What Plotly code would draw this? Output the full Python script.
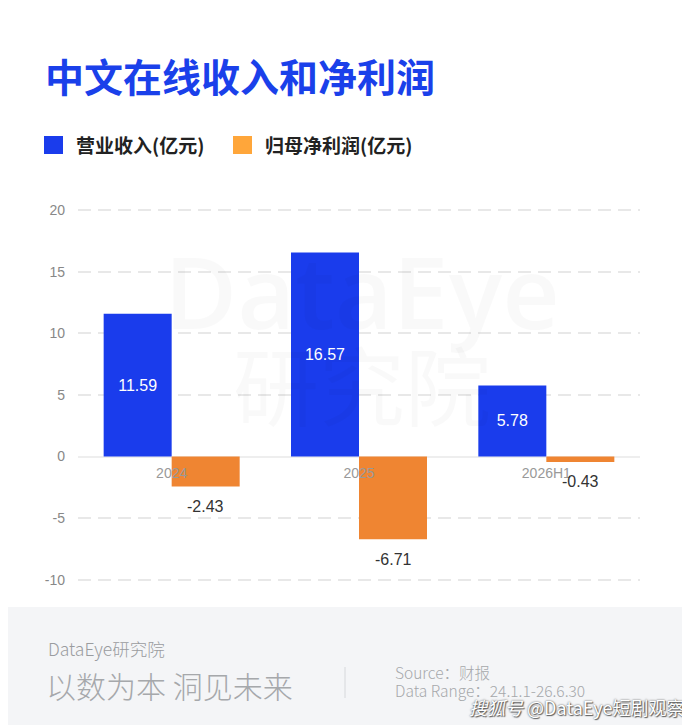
import plotly.graph_objects as go

# 数据
categories = ["2024", "2025", "2026H1"]
revenue = [11.59, 16.57, 5.78]      # 营业收入(亿元)
net_profit = [-2.43, -6.71, -0.43]  # 归母净利润(亿元)
y_ticks = [-10, -5, 0, 5, 10, 15, 20]

BLUE = "#1a3cec"
ORANGE = "#ef8532"
ORANGE_LEGEND = "#ffa63a"
FONT = "Noto Sans CJK SC"

# 页面 body 有 8px 边距, 图按参考图像素坐标减去 8 来摆放
OFF = 8
W, H = 690 - OFF, 725 - OFF
L, R, T, B = 78 - OFF, 640 - OFF, 209 - OFF, 581 - OFF
Y_RANGE = [-10.1, 20.1]


def px(x):
    return (x - OFF - L) / (R - L)


def py(y):
    return (B - (y - OFF)) / (B - T)


idx = list(range(len(categories)))

fig = go.Figure()

fig.add_trace(go.Bar(
    x=idx, y=revenue, name="营业收入(亿元)",
    marker=dict(color=BLUE, line=dict(width=0)),
    text=[f"{v:.2f}" for v in revenue],
    textposition="inside", insidetextanchor="middle",
    textfont=dict(color="white", size=16, family="Liberation Sans"),
    showlegend=False,
))
fig.add_trace(go.Bar(
    x=idx, y=net_profit, name="归母净利润(亿元)",
    marker=dict(color=ORANGE, line=dict(width=0)),
    showlegend=False,
))

annotations = []
shapes = []

# 负值标签 (柱子下方)
for i, v in zip(idx, net_profit):
    annotations.append(dict(
        x=i, y=v, xref="x", yref="y", text=f"{v:.2f}", showarrow=False,
        xshift=34, yshift=-20, font=dict(size=16, color="#333333", family="Liberation Sans"),
    ))

# 水印
annotations.append(dict(
    x=px(362), y=py(290), xref="paper", yref="paper", xanchor="center", yanchor="middle",
    text="DataEye", showarrow=False,
    font=dict(size=100, color="rgba(0,0,0,0.025)", family="Open Sans", weight=600),
))
annotations.append(dict(
    x=px(362), y=py(382), xref="paper", yref="paper", xanchor="center", yanchor="middle",
    text="研究院", showarrow=False,
    font=dict(size=86, color="rgba(0,0,0,0.025)", family=FONT),
))

# 标题
annotations.append(dict(
    x=px(43), y=py(75), xref="paper", yref="paper", xanchor="left", yanchor="middle",
    text="<b>中文在线收入和净利润</b>", showarrow=False,
    font=dict(size=39, color="#1a40ea", family=FONT),
))

# 图例
for x0, color, label in [(44, BLUE, "营业收入(亿元)"), (233, ORANGE_LEGEND, "归母净利润(亿元)")]:
    shapes.append(dict(
        type="rect", xref="paper", yref="paper", x0=px(x0), x1=px(x0 + 19),
        y0=py(154), y1=py(136), fillcolor=color, line=dict(width=0),
    ))
    annotations.append(dict(
        x=px(x0 + 30), y=py(145), xref="paper", yref="paper", xanchor="left", yanchor="middle",
        text=f"<b>{label}</b>", showarrow=False,
        font=dict(size=19, color="#222222", family=FONT),
    ))

# 页脚背景
shapes.append(dict(
    type="rect", xref="paper", yref="paper", x0=px(0), x1=px(700),
    y0=py(740), y1=py(607), fillcolor="#f4f5f7", line=dict(width=0), layer="below",
))
shapes.append(dict(
    type="line", xref="paper", yref="paper", x0=px(345), x1=px(345),
    y0=py(667), y1=py(698), line=dict(color="#d6d8db", width=1),
))

footer = [
    (46, 648, "DataEye研究院", 17.5, "#9a9c9f"),
    (44, 685, "以数为本 洞见未来", 30, "#a6a8ab"),
    (393, 672, "Source：财报", 15.5, "#a6a8ab"),
    (393, 690, "Data Range：24.1.1-26.6.30", 15.5, "#a6a8ab"),
]
for x, y, t, s, c in footer:
    annotations.append(dict(
        x=px(x), y=py(y), xref="paper", yref="paper", xanchor="left", yanchor="middle",
        text=t, showarrow=False, font=dict(size=s, color=c, family=FONT, weight=300),
    ))

annotations.append(dict(
    x=px(686), y=py(707), xref="paper", yref="paper", xanchor="right", yanchor="middle",
    text="<i>搜狐号</i> @DataEye短剧观察", showarrow=False,
    font=dict(size=18, color="#ffffff", family=FONT,
              shadow="0px 0px 2px #444, 1px 1px 1px #666"),
))

fig.update_layout(
    width=W, height=H,
    margin=dict(l=L, r=W - R, t=T, b=H - B, pad=0, autoexpand=False),
    paper_bgcolor="white", plot_bgcolor="white",
    barmode="group", bargap=0.274, bargroupgap=0,
    annotations=annotations, shapes=shapes,
    font=dict(family=FONT),
)

fig.update_xaxes(
    range=[-0.5, len(categories) - 0.5],
    tickvals=idx, ticktext=categories,
    anchor="free", position=(0 - Y_RANGE[0]) / (Y_RANGE[1] - Y_RANGE[0]),
    showgrid=False, showline=False, zeroline=False, ticks="",
    tickfont=dict(size=14, color="#999999", family="Liberation Sans"),
    ticklabelstandoff=6,
)
fig.update_yaxes(
    range=Y_RANGE, tickvals=y_ticks, ticktext=[str(t) for t in y_ticks],
    showgrid=True, gridcolor="#e8e8e8", gridwidth=1.5, griddash="13px,7px",
    zeroline=True, zerolinecolor="#eeeeee", zerolinewidth=1.5,
    showline=False, ticks="",
    tickfont=dict(size=14, color="#888888", family="Liberation Sans"),
    ticklabelstandoff=12,
)

fig.write_html("out.html")
